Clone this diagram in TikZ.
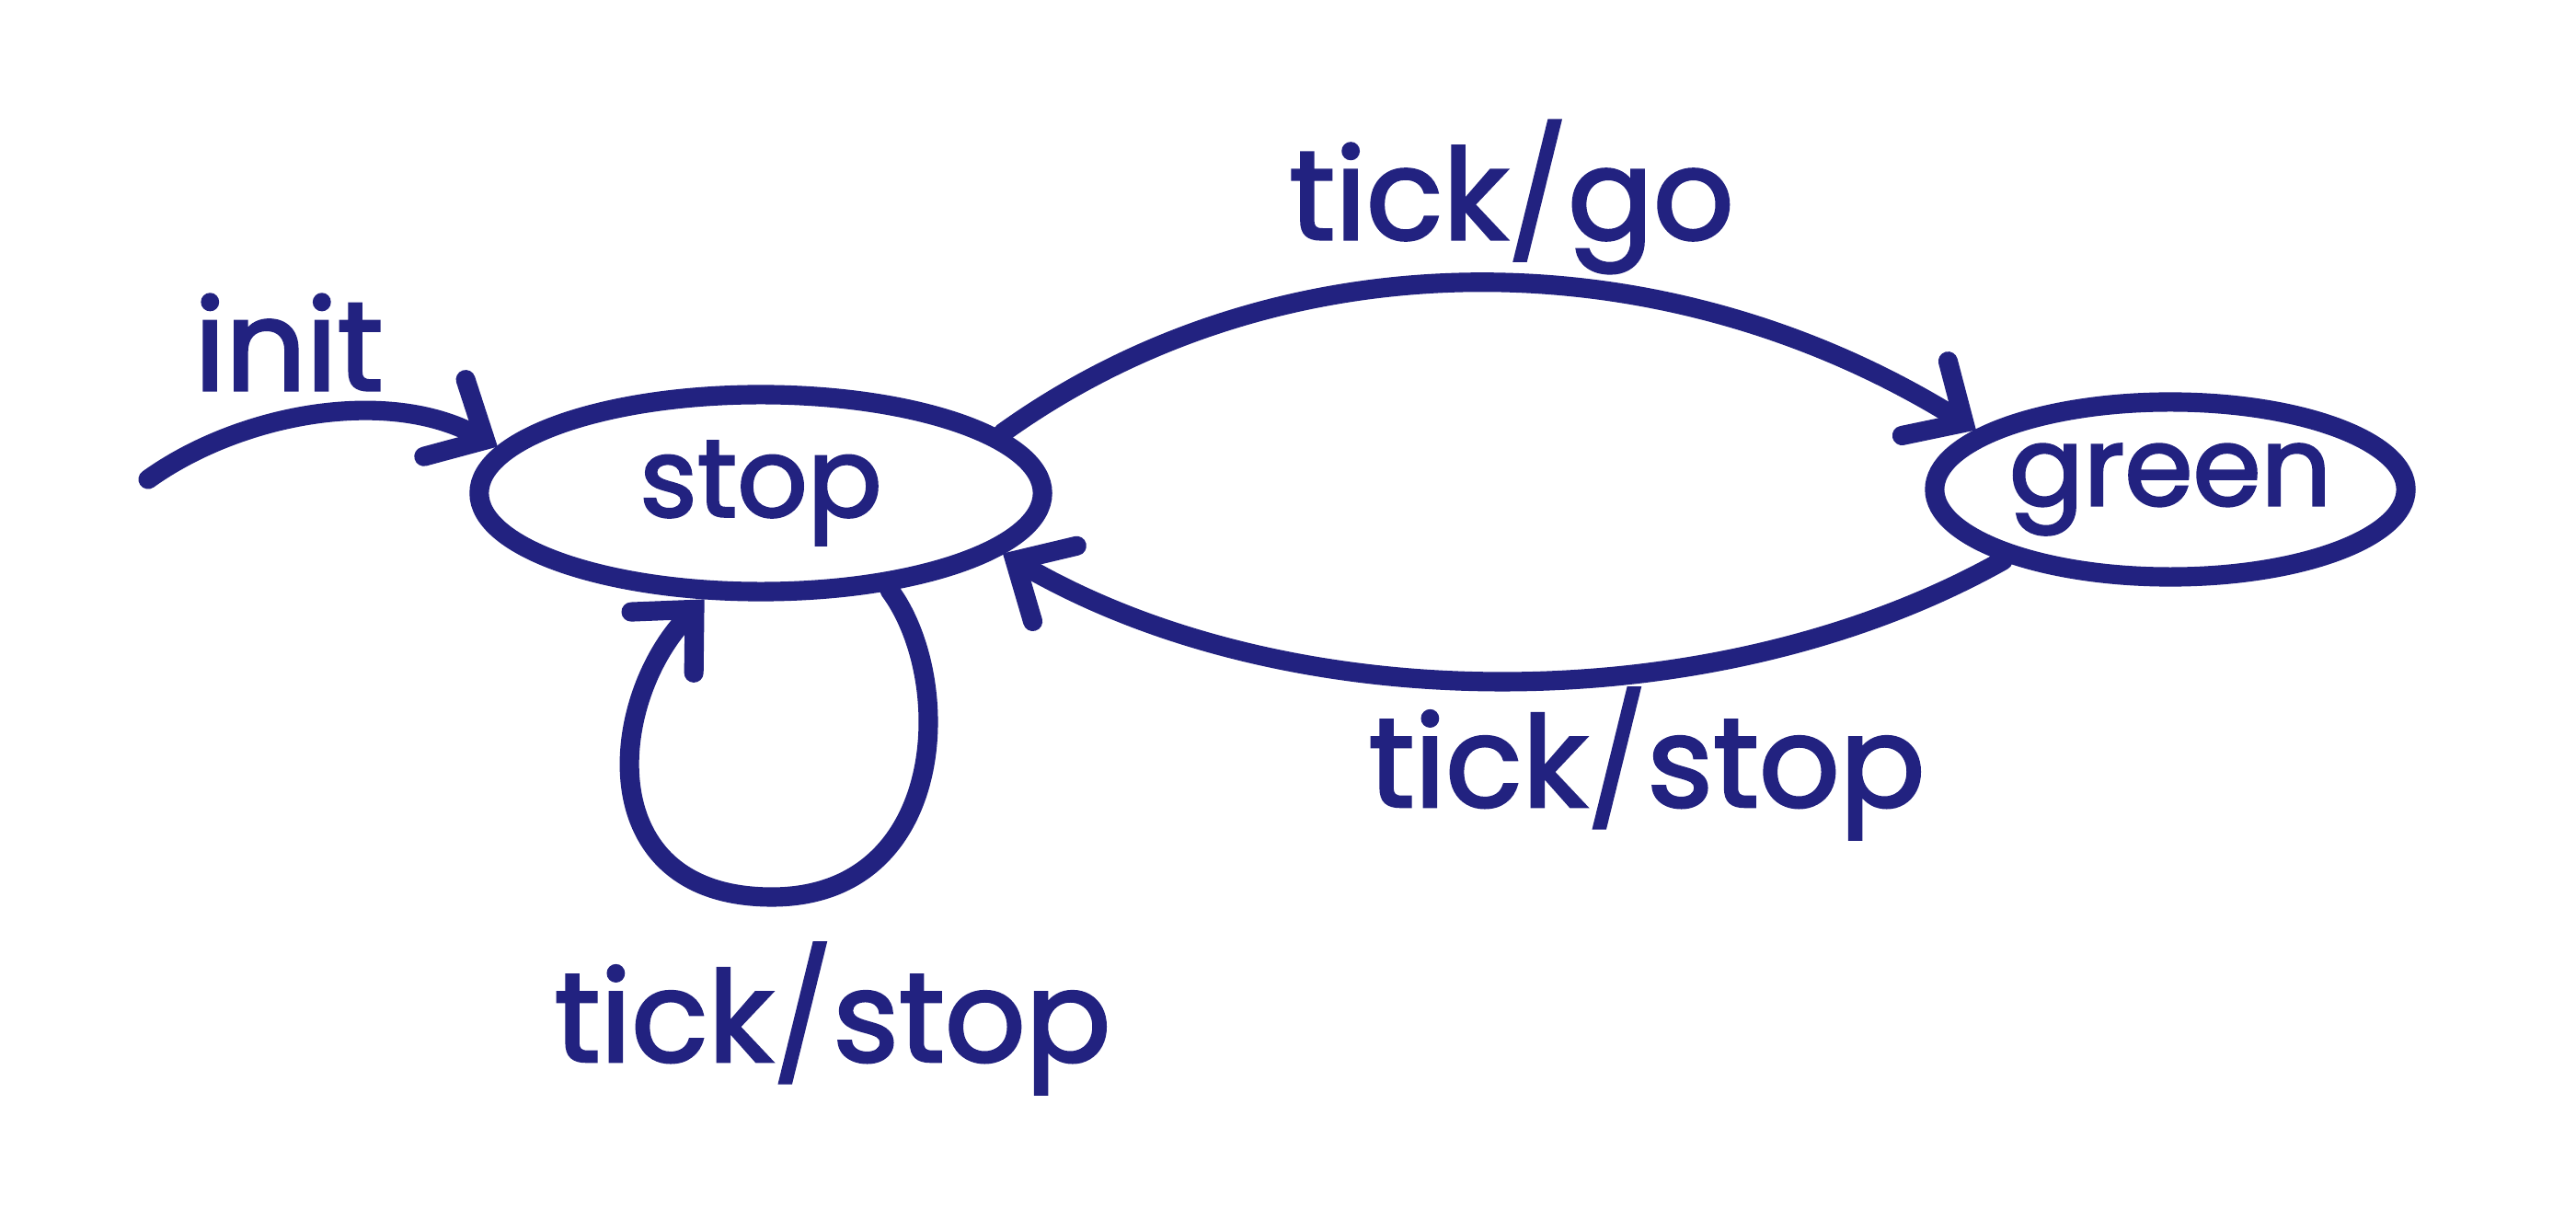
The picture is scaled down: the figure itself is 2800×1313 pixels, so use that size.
\documentclass[tikz,border=0pt]{standalone}
\usepackage{fontspec}
\setmainfont{Poppins}
\newfontfamily\handfont{Poppins}[FakeBold=2.2]
\usetikzlibrary{arrows.meta,shapes.geometric}
\definecolor{ink}{RGB}{34,34,128}
\begin{document}
\begin{tikzpicture}[x=0.01cm,y=-0.01cm,
  state/.style={ellipse,draw=ink,line width=6pt,inner sep=0pt,text=ink,font=\handfont\fontsize{34}{40}\selectfont},
  edge/.style={draw=ink,line width=6pt,line cap=round,line join=round,-{Straight Barb[length=0.5cm,width=0.95cm,line cap=round]}},
  lbl/.style={text=ink,inner sep=0pt,font=\handfont\fontsize{39}{44}\selectfont}]
\useasboundingbox (0,0) rectangle (2800,1313);
\fill[white] (0,0) rectangle (2800,1313);
\node[state,minimum width=6.12cm,minimum height=2.14cm] (stop) at (827,536) {stop};
\node[state,minimum width=5.12cm,minimum height=1.90cm] (green) at (2359,532) {green};
\coordinate (istart) at (161,521);
\coordinate (loopbot) at (839,975);
\draw[edge] (istart) .. controls (260,450) and (420,420) .. (stop.170);
\draw[edge] (stop.14) .. controls (1390,255) and (1805,255) .. (green.163);
\draw[edge] (green.203) .. controls (1866,784) and (1404,784) .. (stop.346);
\draw[edge] (stop.-37) .. controls (1040,740) and (1030,975) .. (loopbot) .. controls (640,975) and (660,760) .. (stop.242);
\node[lbl] (linit) at (314,372) {init};
\node[lbl] (lgo) at (1643,214) {tick/go};
\node[lbl] (lstopa) at (1790,830) {tick/stop};
\node[lbl] (lstopb) at (905,1107) {tick/stop};
\end{tikzpicture}
\end{document}
